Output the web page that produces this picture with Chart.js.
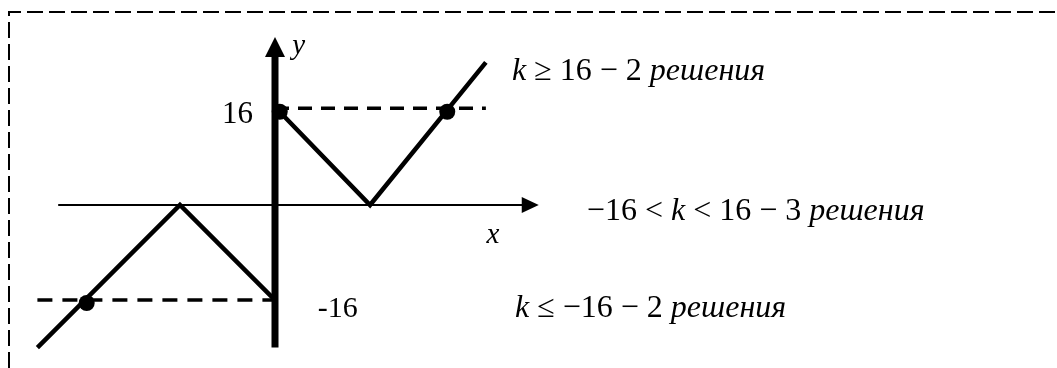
<!DOCTYPE html>
<html>
<head>
<meta charset="utf-8">
<script src="https://cdn.jsdelivr.net/npm/chart.js@4"></script>
<style>
    html, body { margin: 0; padding: 0; background: #fff; }
    #wrap { width: 1057px; height: 368px; position: relative; }
</style>
</head>
<body>
<div id="wrap"><canvas id="graph"></canvas></div>
<script>
// Graph of the piecewise function (y = null breaks the line at x = 0)
const graphX = [-40, -16, 0, 0, 0.5, 16, 35.5];
const graphY = [-24, 0, -16, null, 16, 0, 24];

// Levels y = k
const levelTopX = [0, 35.5];
const levelTopY = [16.3, 16.3];
const levelBottomX = [-40, 0];
const levelBottomY = [-16, -16];

// Intersection points
const dotX = [0.8, 29, -31.7];
const dotY = [15.7, 15.7, -16.5];

// Axes (start, arrow tip)
const xAxisX = [-36.5, 44.4];
const yAxisY = [-24, 28.3];

// Text labels
const labels = [
    { x: -3.7, y: 13.8, align: 'right', size: 31, runs: [['16', false]] },
    { x: 7.2, y: -18.8, align: 'left', size: 30, runs: [['-16', false]] },
    { x: 2.9, y: 25.4, align: 'left', size: 29, runs: [['y', true]] },
    { x: 35.6, y: -6.4, align: 'left', size: 29, runs: [['x', true]] },
    { x: 39.9, y: 21.0, align: 'left', size: 32, runs: [['k', true], [' \u2265 16 \u2212 2 ', false], ['решения', true]] },
    { x: 52.5, y: -2.5, align: 'left', size: 32, runs: [['\u221216 < ', false], ['k', true], [' < 16 \u2212 3 ', false], ['решения', true]] },
    { x: 40.4, y: -18.8, align: 'left', size: 32, runs: [['k', true], [' \u2264 \u221216 \u2212 2 ', false], ['решения', true]] }
];

const toPoints = (xs, ys) => xs.map((x, i) => ({ x: x, y: ys[i] }));

const frame = {
    id: 'frame',
    beforeDatasetsDraw(chart) {
        const ctx = chart.ctx;
        ctx.save();
        ctx.strokeStyle = '#000';
        ctx.lineWidth = 2;
        ctx.setLineDash([16, 6]);
        ctx.beginPath();
        ctx.moveTo(9, 368);
        ctx.lineTo(9, 12);
        ctx.lineTo(chart.width, 12);
        ctx.stroke();
        ctx.restore();
    }
};

const axes = {
    id: 'axes',
    beforeDatasetsDraw(chart) {
        const ctx = chart.ctx;
        const sx = chart.scales.x, sy = chart.scales.y;
        const x0 = sx.getPixelForValue(0), y0 = sy.getPixelForValue(0);
        ctx.save();
        ctx.fillStyle = '#000';
        ctx.strokeStyle = '#000';

        // x axis
        const xa = sx.getPixelForValue(xAxisX[0]), xb = sx.getPixelForValue(xAxisX[1]);
        ctx.lineWidth = 2;
        ctx.beginPath();
        ctx.moveTo(xa, y0);
        ctx.lineTo(xb - 14, y0);
        ctx.stroke();
        ctx.beginPath();
        ctx.moveTo(xb, y0);
        ctx.lineTo(xb - 17, y0 - 8);
        ctx.lineTo(xb - 17, y0 + 8);
        ctx.closePath();
        ctx.fill();

        // y axis
        const ya = sy.getPixelForValue(yAxisY[0]), yb = sy.getPixelForValue(yAxisY[1]);
        ctx.lineWidth = 7;
        ctx.beginPath();
        ctx.moveTo(x0, ya);
        ctx.lineTo(x0, yb + 16);
        ctx.stroke();
        ctx.beginPath();
        ctx.moveTo(x0, yb);
        ctx.lineTo(x0 - 10, yb + 20);
        ctx.lineTo(x0 + 10, yb + 20);
        ctx.closePath();
        ctx.fill();
        ctx.restore();
    }
};

const texts = {
    id: 'texts',
    afterDatasetsDraw(chart) {
        const ctx = chart.ctx;
        const sx = chart.scales.x, sy = chart.scales.y;
        ctx.save();
        ctx.fillStyle = '#000';
        ctx.textBaseline = 'alphabetic';
        ctx.textAlign = 'left';
        labels.forEach(l => {
            const fontFor = italic => (italic ? 'italic ' : '') + l.size + 'px "Liberation Serif", "Times New Roman", serif';
            let width = 0;
            l.runs.forEach(r => { ctx.font = fontFor(r[1]); width += ctx.measureText(r[0]).width; });
            let px = sx.getPixelForValue(l.x);
            if (l.align === 'right') px -= width;
            const py = sy.getPixelForValue(l.y);
            l.runs.forEach(r => {
                ctx.font = fontFor(r[1]);
                ctx.fillText(r[0], px, py);
                px += ctx.measureText(r[0]).width;
            });
        });
        ctx.restore();
    }
};

const pxPerUnit = 5.94;

new Chart(document.getElementById('graph'), {
    type: 'scatter',
    data: {
        datasets: [
            {
                data: toPoints(levelTopX, levelTopY),
                showLine: true,
                borderColor: '#000',
                borderWidth: 3.5,
                borderDash: [14, 9],
                pointRadius: 0
            },
            {
                data: toPoints(levelBottomX, levelBottomY),
                showLine: true,
                borderColor: '#000',
                borderWidth: 3.5,
                borderDash: [15, 10],
                pointRadius: 0
            },
            {
                data: toPoints(graphX, graphY),
                showLine: true,
                spanGaps: false,
                borderColor: '#000',
                borderWidth: 4.5,
                borderJoinStyle: 'miter',
                pointRadius: 0
            },
            {
                data: toPoints(dotX, dotY),
                showLine: false,
                backgroundColor: '#000',
                borderColor: '#000',
                pointRadius: 8,
                borderWidth: 0
            }
        ]
    },
    options: {
        responsive: true,
        maintainAspectRatio: false,
        animation: false,
        layout: { padding: 0, autoPadding: false },
        plugins: {
            legend: { display: false },
            tooltip: { enabled: false }
        },
        scales: {
            x: { type: 'linear', display: false, min: -275 / pxPerUnit, max: (1057 - 275) / pxPerUnit },
            y: { type: 'linear', display: false, min: -(368 - 205) / pxPerUnit, max: 205 / pxPerUnit }
        }
    },
    plugins: [frame, axes, texts]
});
</script>
</body>
</html>
